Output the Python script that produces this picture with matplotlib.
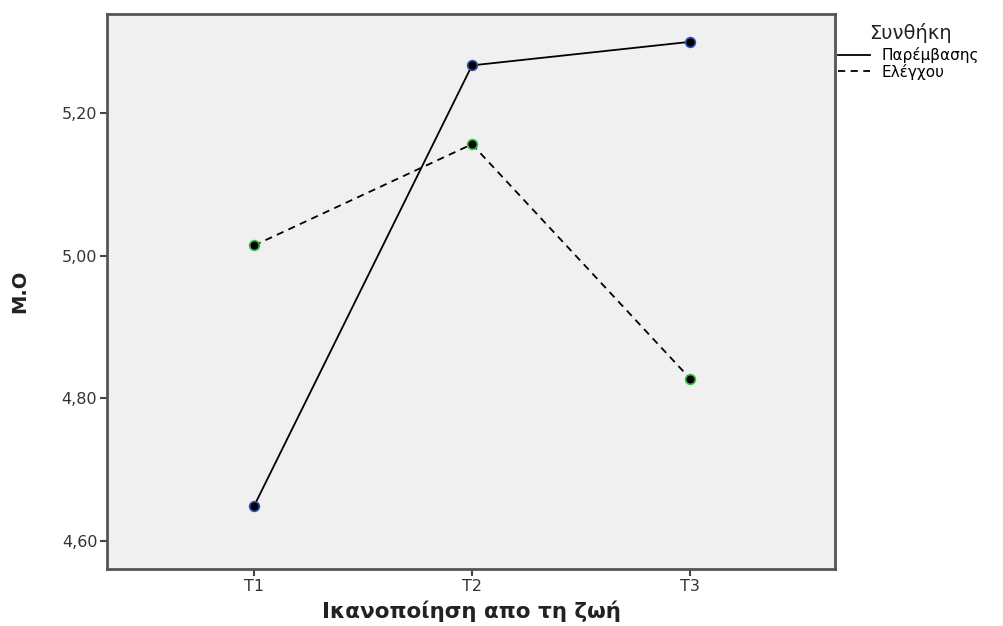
import matplotlib
matplotlib.use("Agg")
import matplotlib.pyplot as plt

times = ["T1", "T2", "T3"]
intervention = [4.649, 5.267, 5.300]
control = [5.0145, 5.1565, 4.828]
yticks = [4.60, 4.80, 5.00, 5.20]
ytick_labels = ["4,60", "4,80", "5,00", "5,20"]
legend_title = "Συνθήκη"

plt.rcParams['font.family'] = ['DejaVu Sans']
fig = plt.figure(figsize=(10.04, 6.26), dpi=100)
ax = fig.add_axes([0.1066, 0.0911, 0.8317 - 0.1066, 0.9776 - 0.0911])
ax.set_facecolor("#F0F0F0")

x = list(range(1, len(times) + 1))
ax.plot(x, intervention, color="black", lw=1.3, ls="-", label="Παρέμβασης",
        marker="o", ms=7, mfc="black", mec="#3050B0", mew=1.2)
ax.plot(x, control, color="black", lw=1.3, ls=(0, (4, 3)), label="Ελέγχου",
        marker="o", ms=7, mfc="black", mec="#30C040", mew=1.2)

ax.set_xlim(0.326, 3.665)
ax.set_ylim(4.561, 5.339)
ax.set_xticks(x)
ax.set_xticklabels(times)
ax.set_yticks(yticks)
ax.set_yticklabels(ytick_labels)
ax.tick_params(axis="both", colors="#444444", labelsize=11.5, length=5, width=1.5,
               direction="out", pad=2)
ax.tick_params(axis="both", labelcolor="#333333")
for s in ax.spines.values():
    s.set_color("#555555")
    s.set_linewidth(2)

ax.set_xlabel("Ικανοποίηση απο τη ζωή", fontsize=15.5, fontweight="bold", color="#222222", labelpad=5)
ax.set_ylabel("M.O", fontsize=14, fontweight="bold", color="#222222", labelpad=23)

leg = ax.legend(loc="upper left", bbox_to_anchor=(838 / 1004, 1 - 47 / 626),
                bbox_transform=fig.transFigure, frameon=False,
                fontsize=11, handlelength=2.1, handletextpad=0.75,
                labelspacing=0.05, borderaxespad=0, borderpad=0)
for h in leg.legend_handles:
    h.set_marker("")
fig.text(869 / 1004, 1 - 33 / 626, legend_title, fontsize=14, color="#222222",
         ha="left", va="center")

fig.savefig("out.png", dpi=100)
